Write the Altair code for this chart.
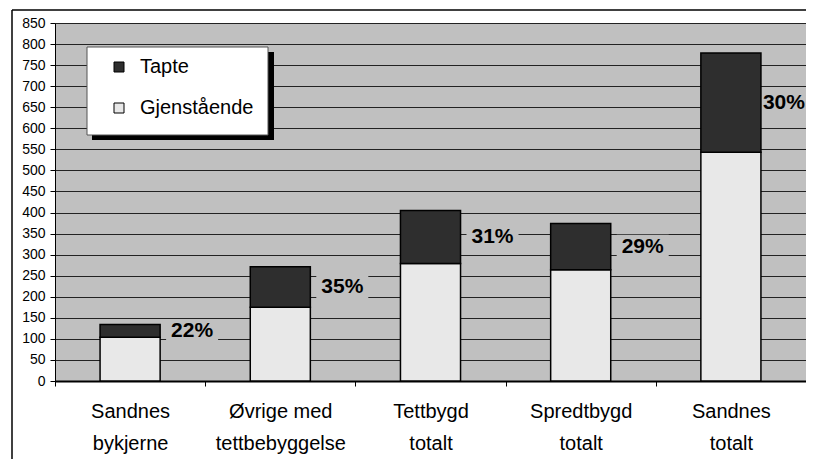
import altair as alt
import pandas as pd

categories = ["Sandnes|bykjerne", "Øvrige med|tettbebyggelse", "Tettbygd|totalt",
              "Spredtbygd|totalt", "Sandnes|totalt"]
gjenstaende = [104, 175, 279, 264, 543]
tapte = [30, 96, 126, 110, 236]
pct_labels = ["22%", "35%", "31%", "29%", "30%"]
series = ["Tapte", "Gjenstående"]
series_colors = ["#2e2e2e", "#e8e8e8"]
y_ticks = list(range(0, 851, 50))

rows = []
for c, g, t in zip(categories, gjenstaende, tapte):
    rows.append({"kat": c, "serie": "Gjenstående", "verdi": g, "ord": 0})
    rows.append({"kat": c, "serie": "Tapte", "verdi": t, "ord": 1})
df = pd.DataFrame(rows)

lab = pd.DataFrame({
    "kat": categories,
    "mid": [g + t / 2 for g, t in zip(gjenstaende, tapte)],
    "txt": pct_labels,
})

W, H = 751, 358
FONT = "Liberation Sans"
step = W / 5.0

xscale = alt.Scale(domain=categories, paddingInner=0.6, paddingOuter=0.3)
yscale = alt.Scale(domain=[0, 850], nice=False)

x_axis = alt.Axis(labelExpr="split(datum.label, '|')", labelAngle=0,
                  labelFontSize=20, labelFont=FONT, labelColor="black",
                  labelLineHeight=32, labelPadding=15, labelBaseline="top",
                  bandPosition=0.5, tickOffset=-step / 2, labelOffset=step / 2,
                  tickSize=5, tickColor="black", domainColor="black",
                  domainWidth=2, grid=False, title=None)
y_axis = alt.Axis(values=y_ticks, labelFontSize=14, labelFont=FONT,
                  labelColor="black", tickSize=5, tickColor="black",
                  labelPadding=5, labelOverlap=False, tickCount=18,
                  domainColor="black", domainWidth=1,
                  gridColor="#222222", gridWidth=1, title=None)

x_enc = alt.X("kat:N", scale=xscale, sort=categories, axis=x_axis)
y_mid = alt.Y("mid:Q", scale=yscale, axis=y_axis)

bars = alt.Chart(df).mark_bar(stroke="black", strokeWidth=1.5).encode(
    x=x_enc,
    y=alt.Y("verdi:Q", stack="zero", scale=yscale, axis=y_axis),
    color=alt.Color("serie:N", scale=alt.Scale(domain=series, range=series_colors),
                    legend=alt.Legend(title=None, orient="none", legendX=54, legendY=34,
                                      padding=0, labelFontSize=20, labelFont=FONT,
                                      labelColor="black", symbolType="square",
                                      symbolSize=100, symbolStrokeColor="black",
                                      symbolStrokeWidth=1, symbolOpacity=1,
                                      labelOffset=11, rowPadding=21)),
    order=alt.Order("ord:Q"),
)

box_path = "M-1,-0.4615L1,-0.4615L1,0.4615L-1,0.4615Z"
last = categories[-1]


def label_bg(filt, off):
    return alt.Chart(lab).transform_filter(filt).mark_point(
        shape=box_path, filled=True, fill="#C0C0C0", opacity=1, size=2704,
        strokeWidth=0, xOffset=off).encode(x=x_enc, y=y_mid)


def label_txt(filt, off):
    return alt.Chart(lab).transform_filter(filt).mark_text(
        dx=off, fontSize=21, fontWeight="bold", font=FONT, color="black",
        align="center", baseline="middle").encode(x=x_enc, y=y_mid, text="txt:N")


f_in = alt.datum.kat != last
f_edge = alt.datum.kat == last

one = pd.DataFrame({"d": [0]})
shadow = alt.Chart(one).mark_rect(fill="black").encode(
    x=alt.value(37), x2=alt.value(219), y=alt.value(29), y2=alt.value(117))
lbox = alt.Chart(one).mark_rect(fill="white", stroke="#555555", strokeWidth=1).encode(
    x=alt.value(32), x2=alt.value(213), y=alt.value(24), y2=alt.value(112))
frame_left = alt.Chart(one).mark_rule(color="black", strokeWidth=1.5).encode(
    x=alt.value(-43), y=alt.value(-13), y2=alt.value(H + 78))
frame_top = alt.Chart(one).mark_rule(color="black", strokeWidth=1.5).encode(
    x=alt.value(-43), x2=alt.value(W + 5), y=alt.value(-13))

chart = alt.layer(
    label_bg(f_in, 62), label_bg(f_edge, 53), bars,
    label_txt(f_in, 62), label_txt(f_edge, 53),
    shadow, lbox, frame_left, frame_top,
).properties(
    width=W, height=H,
    autosize=alt.AutoSizeParams(type="none"),
    padding={"left": 47, "top": 15, "right": 0, "bottom": 78},
).configure_view(fill="#C0C0C0", stroke="#808080", strokeWidth=1)

chart.save("out.html", embed_options={"renderer": "svg", "actions": False})
